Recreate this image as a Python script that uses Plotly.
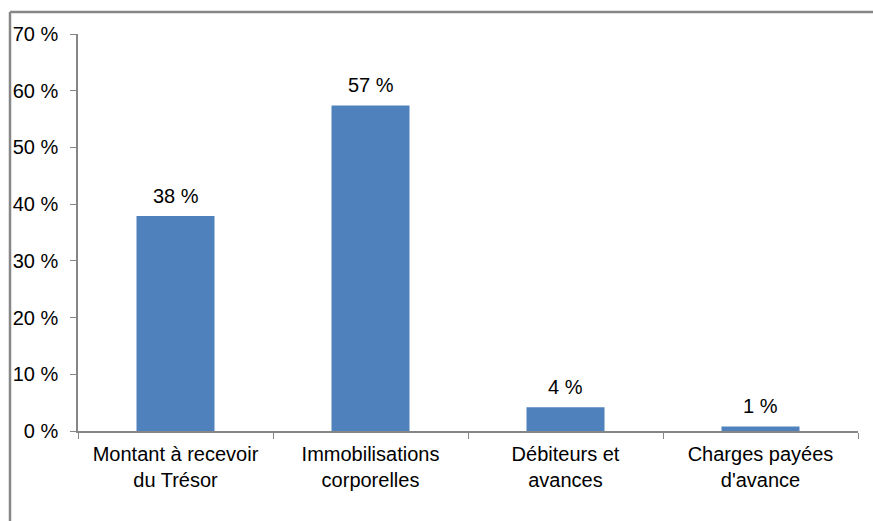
import plotly.graph_objects as go

categories = ["Montant à recevoir<br>du Trésor", "Immobilisations<br>corporelles",
              "Débiteurs et<br>avances", "Charges payées<br>d'avance"]
values = [37.9, 57.4, 4.2, 0.8]
y_ticks = [0, 10, 20, 30, 40, 50, 60, 70]

W, H = 873, 521
L, R, T, B = 78, 858, 34, 431
FS = 20
FONT = "Liberation Sans, Arial"

fig = go.Figure(go.Bar(x=categories, y=values, marker_color="#4F81BD",
                       marker_line_width=0, hoverinfo="skip"))

for c, v in zip(categories, values):
    fig.add_annotation(x=c, y=v, text=f"{v:.0f} %", showarrow=False,
                       yanchor="bottom", yshift=7,
                       font=dict(family=FONT, size=FS, color="#000"))

axcol = "#868686"
fig.update_layout(
    width=W, height=H,
    margin=dict(l=L, r=W - R, t=T, b=H - B, pad=0),
    paper_bgcolor="white", plot_bgcolor="white",
    bargap=0.6, showlegend=False,
    font=dict(family=FONT, size=FS, color="#000"),
    xaxis=dict(showline=True, linecolor=axcol, linewidth=1.5, ticks="outside",
               tickson="boundaries", ticklen=6, tickcolor=axcol, showgrid=False,
               ticklabelstandoff=4,
               tickfont=dict(family=FONT, size=FS, color="#000")),
    yaxis=dict(range=[0, 70], tickvals=y_ticks, ticktext=[f"{t} %" for t in y_ticks],
               showline=True, linecolor=axcol, linewidth=1.5, ticks="outside",
               ticklen=6, tickcolor=axcol, showgrid=False, zeroline=False,
               ticklabelstandoff=8,
               tickfont=dict(family=FONT, size=FS, color="#000")),
)

def px_x(x):
    return (x - L) / (R - L)

def px_y(y):
    return (B - y) / (B - T)

frame = "#878787"
fig.add_shape(type="line", xref="paper", yref="paper", x0=px_x(10), x1=px_x(W + 5),
              y0=px_y(12), y1=px_y(12), line=dict(color=frame, width=2.5))
fig.add_shape(type="line", xref="paper", yref="paper", x0=px_x(10), x1=px_x(10),
              y0=px_y(12), y1=px_y(H + 5), line=dict(color=frame, width=2.5))

fig.write_html("out.html")
